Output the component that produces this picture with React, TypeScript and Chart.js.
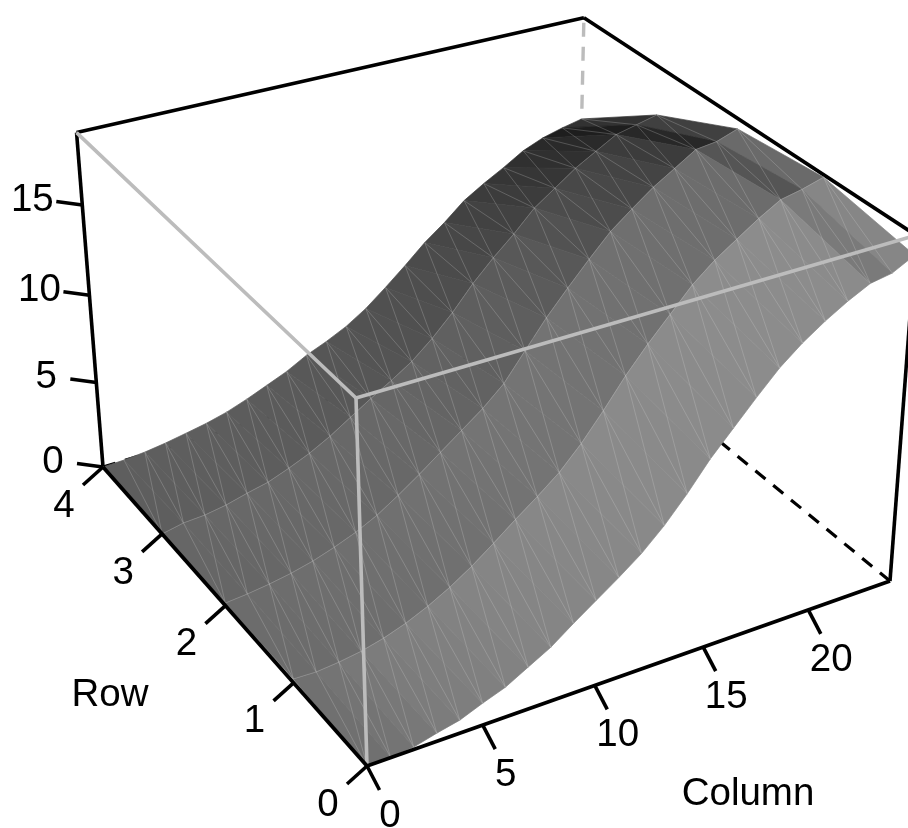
import React, { useEffect, useRef } from "react";
import { Chart, registerables } from "chart.js";

Chart.register(...registerables);

// Surface heights: one list per row, index = column 0..24
const row0 = [0, 0.04, 0.13, 0.45, 0.72, 1.21, 1.65, 2.32, 2.98, 3.86, 4.69, 5.52, 6.41, 7.51, 8.82, 10.28, 11.52, 12.76, 13.95, 14.9, 15.7, 16.4, 17.0, 17.22, 17.85];
const row1 = [0.22, 0.18, 0.3, 0.49, 0.8, 1.22, 1.76, 2.41, 3.18, 4.07, 5.0, 5.88, 6.83, 8.04, 9.47, 11.0, 12.36, 13.61, 14.86, 15.84, 16.64, 17.44, 18.14, 18.4, 18.76];
const row2 = [0.15, 0.26, 0.42, 0.64, 0.93, 1.33, 1.79, 2.38, 3.14, 3.96, 4.84, 5.72, 6.6, 7.65, 9.15, 10.65, 11.97, 13.24, 14.45, 15.38, 16.27, 17.0, 17.75, 17.9, 18.32];
const row3 = [0, 0.25, 0.32, 0.52, 0.83, 1.1, 1.54, 2.05, 2.68, 3.43, 4.18, 4.88, 5.64, 6.64, 7.81, 9.16, 10.33, 11.38, 12.56, 13.39, 14.23, 14.9, 15.57, 15.84, 16.12];
const row4 = [0, 0.04, 0.14, 0.31, 0.53, 0.76, 1.07, 1.49, 1.97, 2.46, 3.09, 3.58, 4.15, 4.9, 5.84, 6.84, 7.9, 8.79, 9.8, 10.52, 11.17, 11.88, 12.36, 12.67, 12.92];

// Grey level of each strip between two rows, one per column step
const shade0 = [112, 116, 120, 124, 126, 128, 130, 132, 133, 134, 135, 136, 137, 138, 138, 139, 139, 140, 140, 140, 140, 139, 122, 134];
const shade1 = [108, 108, 109, 110, 110, 111, 111, 112, 113, 114, 115, 116, 116, 116, 115, 114, 113, 112, 111, 110, 109, 108, 85, 106];
const shade2 = [102, 102, 103, 104, 104, 104, 104, 104, 104, 104, 102, 100, 98, 96, 94, 91, 88, 82, 76, 72, 68, 60, 40, 64];
const shade3 = [94, 94, 94, 94, 94, 93, 92, 91, 90, 88, 86, 84, 82, 80, 78, 75, 71, 66, 60, 54, 48, 42, 30, 50];

const zTicks = [0, 5, 10, 15];
const rowTicks = [0, 1, 2, 3, 4];
const colTicks = [0, 5, 10, 15, 20];
const rowTitle = "Row";
const colTitle = "Column";

const COL_MAX = 24;
const ROW_MAX = 4;
const Z_MAX = 18.9;

const grid = [row0, row1, row2, row3, row4];
const shades = [shade0, shade1, shade2, shade3];

type Pt = { x: number; y: number };

// Perspective projection of the box, fixed by its corners on the page
const O = { x: 367, y: 766 };
const U = { x: 890, y: 581 };
const V = { x: 103, y: 467 };
const W = { x: 356, y: 398 };
const A = 1.08;
const B = 1.156;
const C = 0.93;

function project(col: number, row: number, z: number): Pt {
  const u = col / COL_MAX;
  const v = row / ROW_MAX;
  const w = z / Z_MAX;
  const den = 1 + u * (A - 1) + v * (B - 1) + w * (C - 1);
  const f = (k: "x" | "y") =>
    (O[k] + u * (A * U[k] - O[k]) + v * (B * V[k] - O[k]) + w * (C * W[k] - O[k])) / den;
  return {
    x: f("x") + u * v * w * 3,
    y: f("y") + u * v * w * 13 + u * u * u * w * w * w * (1 - v) * 6,
  };
}

const node = (r: number, c: number) => project(c, r, grid[r][c]);

export default function App() {
  const ref = useRef<HTMLCanvasElement | null>(null);
  useEffect(() => {
    document.body.style.margin = "0";
    const datasets: any[] = [];
    const line = (data: Pt[], color: string, width: number, dash: number[] = [], fillColor?: string) => {
      datasets.push({
        data,
        showLine: true,
        borderColor: color,
        borderWidth: width,
        borderDash: dash,
        borderCapStyle: "butt",
        borderJoinStyle: "round",
        pointRadius: 0,
        tension: 0,
        fill: fillColor ? "shape" : false,
        backgroundColor: fillColor,
        clip: false,
      });
    };
    const BLACK = "#000000";
    const GREY = "#bcbcbc";
    const corner = (u: number, v: number, w: number) => project(u * COL_MAX, v * ROW_MAX, w * Z_MAX);

    // hidden box edges
    line([corner(1, 1, 0), corner(1, 1, 1)], GREY, 3.4, [14, 10]);
    line([corner(1, 0, 0), corner(1, 1, 0)], BLACK, 3.2, [13, 10]);
    line([corner(0, 1, 0), corner(1, 1, 0)], BLACK, 3.2, [13, 10]);
    // back box edges
    line([corner(0, 1, 0), corner(0, 1, 1)], BLACK, 3.6);
    line([corner(0, 1, 1), corner(1, 1, 1)], BLACK, 3.6);
    line([corner(1, 1, 1), corner(1, 0, 1)], BLACK, 3.6);
    line([corner(1, 0, 0), corner(1, 0, 1)], BLACK, 3.6);

    // surface, painted from the back strip and far column forward
    for (let r = ROW_MAX - 1; r >= 0; r--) {
      for (let c = COL_MAX - 1; c >= 0; c--) {
        const g = shades[r][c];
        const col = `rgb(${g},${g},${g})`;
        const a = node(r, c);
        const b = node(r, c + 1);
        const d = node(r + 1, c + 1);
        const e = node(r + 1, c);
        line([a, b, d, e, a], col, 0.7, [], col);
      }
    }
    // thin mesh lines
    const MESH = "rgba(215,215,215,0.42)";
    for (let r = 0; r < ROW_MAX; r++) {
      for (let c = 1; c <= COL_MAX; c++) {
        line([node(r + 1, c), node(r, c - 1)], MESH, 0.6);
        if (c >= 2) line([node(r + 1, c), node(r, c - 2)], MESH, 0.6);
      }
    }
    for (let r = 1; r < ROW_MAX; r++) {
      line(grid[r].map((_, c) => node(r, c)), MESH, 0.6);
    }

    // front box edges
    line([corner(0, 0, 1), corner(0, 1, 1)], GREY, 3.6);
    line([corner(0, 0, 1), corner(1, 0, 1)], GREY, 3.6);
    line([corner(0, 0, 1), corner(0, 0, 0)], GREY, 3.6);
    line([corner(0, 1, 0), corner(0, 0, 0)], BLACK, 3.8);
    line([corner(0, 0, 0), corner(1, 0, 0)], BLACK, 3.8);

    // tick marks
    const labels: { text: string; x: number; y: number }[] = [];
    const tick = (p: Pt, dx: number, dy: number, lx: number, ly: number, text: string) => {
      line([p, { x: p.x + dx, y: p.y + dy }], BLACK, 3.6);
      labels.push({ text, x: p.x + lx, y: p.y + ly });
    };
    zTicks.forEach((t) => tick(project(0, ROW_MAX, t), -26, -3.5, -50, -7, String(t)));
    rowTicks.forEach((t) => tick(project(0, t, 0), -20, 18, -39, 37, String(t)));
    colTicks.forEach((t) => tick(project(t, 0, 0), 12.5, 24, 23, 48, String(t)));
    labels.push({ text: rowTitle, x: 110, y: 693 });
    labels.push({ text: colTitle, x: 748, y: 792 });

    // order: first pushed is painted first
    datasets.forEach((d, i) => (d.order = datasets.length - i));

    const textPlugin = {
      id: "plotText",
      afterDraw(chart: any) {
        const ctx = chart.ctx;
        const xs = chart.scales.x;
        const ys = chart.scales.y;
        ctx.save();
        ctx.fillStyle = "#000";
        ctx.font = '38.5px "Liberation Sans", Arial, sans-serif';
        ctx.textAlign = "center";
        ctx.textBaseline = "middle";
        labels.forEach((l) => ctx.fillText(l.text, xs.getPixelForValue(l.x), ys.getPixelForValue(l.y) + 2));
        ctx.restore();
      },
    };

    const chart = new Chart(ref.current!, {
      type: "scatter",
      data: { datasets },
      options: {
        animation: false,
        responsive: false,
        layout: { padding: 0 },
        plugins: { legend: { display: false }, tooltip: { enabled: false }, title: { display: false } },
        scales: {
          x: { type: "linear", min: 0, max: 908, display: false },
          y: { type: "linear", min: 0, max: 828, reverse: true, display: false },
        },
      },
      plugins: [textPlugin],
    } as any);
    return () => chart.destroy();
  }, []);
  return (
    <div style={{ width: 908, height: 828, background: "#fff", overflow: "hidden" }}>
      <canvas ref={ref} width={908} height={828} style={{ display: "block" }} />
    </div>
  );
}
